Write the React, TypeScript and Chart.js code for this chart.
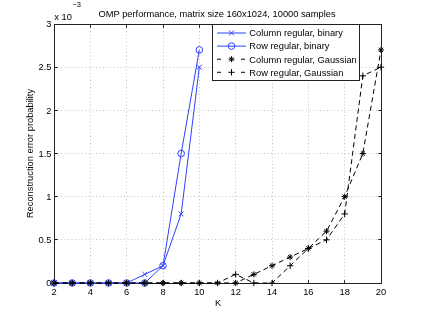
import React, { useEffect, useRef } from 'react';
import { Chart, registerables } from 'chart.js';

Chart.register(...registerables);

// K values (x axis)
const kValues = [2, 3, 4, 5, 6, 7, 8, 9, 10, 11, 12, 13, 14, 15, 16, 17, 18, 19, 20];
// Reconstruction error probability, in units of 1e-3
const colBinary = [0, 0, 0, 0, 0, 0.1, 0.2, 0.8, 2.5, null, null, null, null, null, null, null, null, null, null];
const rowBinary = [0, 0, 0, 0, 0, 0, 0.2, 1.5, 2.7, null, null, null, null, null, null, null, null, null, null];
const colGauss = [0, 0, 0, 0, 0, 0, 0, 0, 0, 0, 0, 0.1, 0.2, 0.3, 0.4, 0.6, 1.0, 1.5, 2.7];
const rowGauss = [0, 0, 0, 0, 0, 0, 0, 0, 0, 0, 0.1, 0, 0, 0.2, 0.4, 0.5, 0.8, 2.4, 2.5];

const seriesLabels = [
  'Column regular, binary',
  'Row regular, binary',
  'Column regular, Gaussian',
  'Row regular, Gaussian',
];
const titleText = 'OMP performance, matrix size 160x1024, 10000 samples';
const xTitle = 'K';
const yTitle = 'Reconstruction error probability';

const BLUE = 'rgb(45,65,255)';
const BLACK = '#000000';
const FRAME = '#222222';
const GRID = '#c4c4c4';
const FONT_FAMILY = '"Liberation Sans", Arial, Helvetica, sans-serif';
const FONT = `9.3px ${FONT_FAMILY}`;

function toXY(vals: (number | null)[]) {
  return kValues.map((k, i) => ({ x: k, y: vals[i] }));
}

function alignPx(p: number) {
  return Math.round(p - 0.5) + 0.5;
}

function drawMarker(ctx: CanvasRenderingContext2D, kind: string, cx: number, cy: number) {
  ctx.beginPath();
  if (kind === 'x') {
    const h = 2.5;
    ctx.moveTo(cx - h, cy - h); ctx.lineTo(cx + h, cy + h);
    ctx.moveTo(cx - h, cy + h); ctx.lineTo(cx + h, cy - h);
    ctx.stroke();
  } else if (kind === 'o') {
    ctx.arc(cx, cy, 3.3, 0, Math.PI * 2);
    ctx.stroke();
  } else if (kind === '*') {
    const h = 3, d = 2.1;
    ctx.moveTo(cx - h, cy); ctx.lineTo(cx + h, cy);
    ctx.moveTo(cx, cy - h); ctx.lineTo(cx, cy + h);
    ctx.moveTo(cx - d, cy - d); ctx.lineTo(cx + d, cy + d);
    ctx.moveTo(cx - d, cy + d); ctx.lineTo(cx + d, cy - d);
    ctx.stroke();
  } else if (kind === '+') {
    const h = 3.2;
    ctx.moveTo(cx - h, cy); ctx.lineTo(cx + h, cy);
    ctx.moveTo(cx, cy - h); ctx.lineTo(cx, cy + h);
    ctx.stroke();
  }
}

const matlabPlugin = {
  id: 'matlabFrame',
  beforeDatasetsDraw(chart: any) {
    const { ctx, chartArea: a, scales } = chart;
    const xs = scales.x, ys = scales.y;
    const L = alignPx(a.left), R = alignPx(a.right), T = alignPx(a.top), B = alignPx(a.bottom);
    ctx.save();
    ctx.strokeStyle = FRAME;
    ctx.lineWidth = 1;
    ctx.setLineDash([]);
    ctx.strokeRect(L, T, R - L, B - T);
    const tl = 3.3;
    ctx.beginPath();
    xs.ticks.forEach((t: any) => {
      const px = alignPx(xs.getPixelForValue(t.value));
      ctx.moveTo(px, B); ctx.lineTo(px, B - tl);
      ctx.moveTo(px, T); ctx.lineTo(px, T + tl);
    });
    ys.ticks.forEach((t: any) => {
      const py = alignPx(ys.getPixelForValue(t.value));
      ctx.moveTo(L, py); ctx.lineTo(L + tl, py);
      ctx.moveTo(R, py); ctx.lineTo(R - tl, py);
    });
    ctx.stroke();

    // tick labels
    ctx.fillStyle = '#000';
    ctx.font = FONT;
    ctx.textBaseline = 'alphabetic';
    ctx.textAlign = 'center';
    xs.ticks.forEach((t: any) => {
      const px = xs.getPixelForValue(t.value);
      ctx.fillText(String(t.value), px, 295);
    });
    ctx.textAlign = 'right';
    ys.ticks.forEach((t: any) => {
      const py = ys.getPixelForValue(t.value);
      ctx.fillText(t.value === 0 ? '0' : String(t.value), L - 3, py + 3.3);
    });
    ctx.restore();
  },
  afterDraw(chart: any) {
    const { ctx, chartArea: a } = chart;
    const L = alignPx(a.left), R = alignPx(a.right), T = alignPx(a.top);
    ctx.save();
    ctx.fillStyle = '#000';
    ctx.font = FONT;
    ctx.textBaseline = 'alphabetic';

    // title
    ctx.textAlign = 'center';
    ctx.fillText(titleText, (L + R) / 2 - 1, 17);

    // exponent
    ctx.textAlign = 'left';
    ctx.fillText('x 10', 54.3, 19.5);
    ctx.font = `7.5px ${FONT_FAMILY}`;
    ctx.fillText('\u22123', 72.4, 7.2);
    ctx.font = FONT;

    // x title
    ctx.textAlign = 'center';
    ctx.fillText(xTitle, 218, 305.7);

    // y title
    ctx.save();
    ctx.translate(33, (a.top + a.bottom) / 2);
    ctx.rotate(-Math.PI / 2);
    ctx.textAlign = 'center';
    ctx.fillText(yTitle, 0, 0);
    ctx.restore();

    // legend
    const bx = 212.5, by = T, bw = 147, bh = 56;
    ctx.fillStyle = '#fff';
    ctx.fillRect(bx, by, bw, bh);
    ctx.strokeStyle = FRAME;
    ctx.lineWidth = 1;
    ctx.strokeRect(bx, by, bw, bh);
    const rows = [33, 46.1, 59.2, 72.3];
    const kinds = ['x', 'o', '*', '+'];
    const colors = [BLUE, BLUE, BLACK, BLACK];
    rows.forEach((ry, i) => {
      ctx.strokeStyle = colors[i];
      ctx.lineWidth = 1;
      ctx.beginPath();
      if (i < 2) {
        ctx.moveTo(217, ry); ctx.lineTo(246, ry);
      } else {
        ctx.moveTo(217, ry); ctx.lineTo(221, ry);
        ctx.moveTo(241, ry); ctx.lineTo(245, ry);
      }
      ctx.stroke();
      drawMarker(ctx, kinds[i], 231.5, ry);
      ctx.fillStyle = '#000';
      ctx.font = FONT;
      ctx.textAlign = 'left';
      ctx.fillText(seriesLabels[i], 249.3, ry + 3.3);
    });
    ctx.restore();
  },
};

export default function App() {
  const canvasRef = useRef<HTMLCanvasElement | null>(null);

  useEffect(() => {
    const canvas = canvasRef.current;
    if (!canvas) return;
    const chart = new Chart(canvas, {
      type: 'line',
      data: {
        datasets: [
          {
            label: seriesLabels[0],
            data: toXY(colBinary),
            borderColor: BLUE,
            backgroundColor: 'rgba(0,0,0,0)',
            borderWidth: 1,
            pointStyle: 'crossRot',
            pointRadius: 3.5,
            pointBorderWidth: 1,
            pointBorderColor: BLUE,
            pointBackgroundColor: 'rgba(0,0,0,0)',
            spanGaps: false,
            clip: false,
            order: 4,
          },
          {
            label: seriesLabels[1],
            data: toXY(rowBinary),
            borderColor: BLUE,
            backgroundColor: 'rgba(0,0,0,0)',
            borderWidth: 1,
            pointStyle: 'circle',
            pointRadius: 3.3,
            pointBorderWidth: 1,
            pointBorderColor: BLUE,
            pointBackgroundColor: 'rgba(0,0,0,0)',
            spanGaps: false,
            clip: false,
            order: 3,
          },
          {
            label: seriesLabels[2],
            data: toXY(colGauss),
            borderColor: BLACK,
            backgroundColor: 'rgba(0,0,0,0)',
            borderWidth: 1,
            borderDash: [5, 3.5],
            pointStyle: 'star',
            pointRadius: 3,
            pointBorderWidth: 1,
            pointBorderColor: BLACK,
            pointBackgroundColor: 'rgba(0,0,0,0)',
            clip: false,
            order: 2,
          },
          {
            label: seriesLabels[3],
            data: toXY(rowGauss),
            borderColor: BLACK,
            backgroundColor: 'rgba(0,0,0,0)',
            borderWidth: 1,
            borderDash: [5, 3.5],
            pointStyle: 'cross',
            pointRadius: 3.2,
            pointBorderWidth: 1,
            pointBorderColor: BLACK,
            pointBackgroundColor: 'rgba(0,0,0,0)',
            clip: false,
            order: 1,
          },
        ],
      },
      options: {
        animation: false,
        responsive: false,
        events: [],
        layout: { padding: { left: 0, right: 40, top: 24, bottom: 0 } },
        plugins: {
          legend: { display: false },
          title: { display: false },
          tooltip: { enabled: false },
        },
        scales: {
          x: {
            type: 'linear',
            min: 2,
            max: 20,
            ticks: { display: false, stepSize: 2 },
            grid: { color: GRID, lineWidth: 1, drawTicks: false },
            border: { display: false, dash: [1, 2.5] },
            afterFit: (scale: any) => { scale.height = 35; },
          },
          y: {
            type: 'linear',
            min: 0,
            max: 3,
            ticks: { display: false, stepSize: 0.5 },
            grid: { color: GRID, lineWidth: 1, drawTicks: false },
            border: { display: false, dash: [1, 2.5] },
            afterFit: (scale: any) => { scale.width = 54; },
          },
        },
      } as any,
      plugins: [matlabPlugin],
    });
    return () => chart.destroy();
  }, []);

  return (
    <div style={{ position: 'absolute', left: 0, top: 0, width: 421, height: 318, background: '#fff' }}>
      <canvas ref={canvasRef} width={421} height={318} style={{ width: 421, height: 318, display: 'block' }} />
    </div>
  );
}
